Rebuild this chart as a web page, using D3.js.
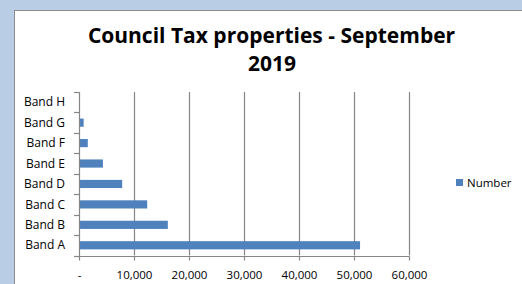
<!DOCTYPE html>
<html><head><meta charset="utf-8">
<script src="https://cdn.jsdelivr.net/npm/d3@7"></script>
<style>html,body{margin:0;padding:0;background:#b9cde5;}svg{display:block;}</style>
</head><body>
<script>
const categories = ["Band A","Band B","Band C","Band D","Band E","Band F","Band G","Band H"];
const values = [51100, 16150, 12400, 7850, 4350, 1600, 850, 60];
const xTicks = [0, 10000, 20000, 30000, 40000, 50000, 60000];
const seriesName = "Number";
const titleLines = ["Council Tax properties - September", "2019"];

const W = 522, H = 284;
const svg = d3.select("body").append("svg").attr("width", W).attr("height", H);
svg.append("rect").attr("width", W).attr("height", H).attr("fill", "#b9cde5");
svg.append("rect").attr("x", 14.5).attr("y", 10.5).attr("width", W).attr("height", H)
  .attr("fill", "#fff").attr("stroke", "#8c8c8c").attr("stroke-width", 1);

const font = "'Open Sans', sans-serif";
const plot = {left: 79, right: 409, top: 92, bottom: 255.5};
const x = d3.scaleLinear().domain([0, 60000]).range([plot.left, plot.right]);
const y = d3.scaleBand().domain(categories).range([plot.bottom, plot.top]).paddingInner(0.6).paddingOuter(0.3);

// gridlines
svg.append("g").selectAll("line").data(xTicks.slice(1)).join("line")
  .attr("x1", d => Math.round(x(d)) + 0.5).attr("x2", d => Math.round(x(d)) + 0.5)
  .attr("y1", plot.top).attr("y2", plot.bottom)
  .attr("stroke", "#868686").attr("stroke-width", 1.2);

// bars
svg.append("g").selectAll("rect").data(categories).join("rect")
  .attr("x", x(0)).attr("y", (d) => y(d))
  .attr("width", (d, i) => x(values[i]) - x(0))
  .attr("height", y.bandwidth())
  .attr("fill", "#4f81bd");

// y axis line + boundary ticks
const step = y.step();
const bounds = d3.range(categories.length + 1).map(i => plot.bottom - i * step);
svg.append("line").attr("x1", plot.left + 0.5).attr("x2", plot.left + 0.5)
  .attr("y1", plot.top).attr("y2", plot.bottom + 0.5).attr("stroke", "#868686").attr("stroke-width", 1.2);
svg.append("g").selectAll("line").data(bounds).join("line")
  .attr("x1", plot.left - 5).attr("x2", plot.left)
  .attr("y1", d => Math.round(d) + 0.5).attr("y2", d => Math.round(d) + 0.5)
  .attr("stroke", "#868686").attr("stroke-width", 1.2);
svg.append("line").attr("x1", plot.left).attr("x2", plot.right + 0.5)
  .attr("y1", Math.round(plot.bottom) + 0.5).attr("y2", Math.round(plot.bottom) + 0.5)
  .attr("stroke", "#868686").attr("stroke-width", 1.2);

// y labels
svg.append("g").selectAll("text").data(categories).join("text")
  .attr("x", 65).attr("y", d => y(d) + y.bandwidth() / 2)
  .attr("dy", "0.35em").attr("text-anchor", "end")
  .attr("font-family", font).attr("font-size", 12).attr("fill", "#000")
  .text(d => d);

// x axis
const xAxis = d3.axisBottom(x).tickValues(xTicks).tickSize(4)
  .tickFormat(d => d === 0 ? "-" : d3.format(",")(d));
const gx = svg.append("g").attr("transform", `translate(0,${Math.round(plot.bottom) + 0.5})`).call(xAxis);
gx.select(".domain").remove();
gx.selectAll(".tick line").attr("stroke", "#868686").attr("stroke-width", 1.2);
gx.selectAll(".tick text").attr("font-family", font).attr("font-size", 11.5).attr("fill", "#000").attr("dy", "1.35em");

// title
svg.append("text").attr("x", 271.5).attr("y", 43).attr("text-anchor", "middle")
  .attr("font-family", font).attr("font-weight", "bold").attr("font-size", 21).text(titleLines[0]);
svg.append("text").attr("x", 272).attr("y", 71).attr("text-anchor", "middle")
  .attr("font-family", font).attr("font-weight", "bold").attr("font-size", 21).text(titleLines[1]);

// legend
svg.append("rect").attr("x", 456).attr("y", 179).attr("width", 7).attr("height", 7).attr("fill", "#4f81bd");
svg.append("text").attr("x", 467).attr("y", 182.5).attr("dy", "0.35em")
  .attr("font-family", font).attr("font-size", 11.5).text(seriesName);
</script>
</body></html>
